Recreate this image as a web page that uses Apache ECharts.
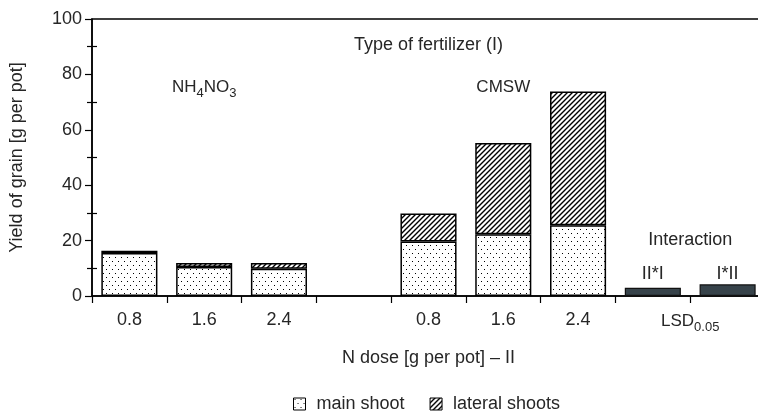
<!DOCTYPE html>
<html><head><meta charset="utf-8">
<script src="https://cdn.jsdelivr.net/npm/echarts@6/dist/echarts.min.js"></script>
<style>html,body{margin:0;padding:0;background:#fff}#c{width:758px;height:412px}</style>
</head><body><div id="c"></div>
<script>
// ---- data ----
const categories = ['0.8', '1.6', '2.4', '', '0.8', '1.6', '2.4', 'II*I', 'I*II'];
const mainShoot = [15.5, 10.5, 9.8, '-', 19.7, 22.3, 25.5, '-', '-'];
const lateralShoots = [0.8, 1.4, 2.1, '-', 10.1, 32.9, 48.3, '-', '-'];
const lsdValues = ['-', '-', '-', '-', '-', '-', '-', 3.0, 4.2];
const seriesNames = ['main shoot', 'lateral shoots'];
const yMin = 0, yMax = 100, yStep = 20;

const FONT = "'Liberation Sans', Arial, sans-serif";
const TXT = '#262626';
const FS = 18;

function dotPattern() {
  const c = document.createElement('canvas');
  c.width = 6; c.height = 8;
  const g = c.getContext('2d');
  g.fillStyle = '#fff'; g.fillRect(0, 0, 6, 8);
  g.fillStyle = '#000';
  g.fillRect(1, 1, 1, 1);
  g.fillRect(4, 5, 1, 1);
  return { image: c, repeat: 'repeat' };
}
function hatchPattern() {
  const s = 5;
  const c = document.createElement('canvas');
  c.width = s; c.height = s;
  const g = c.getContext('2d');
  g.fillStyle = '#fff'; g.fillRect(0, 0, s, s);
  g.strokeStyle = '#000'; g.lineWidth = 1.4;
  g.beginPath();
  g.moveTo(-1, s + 1); g.lineTo(s + 1, -1);
  g.moveTo(-1, 1); g.lineTo(1, -1);
  g.moveTo(s - 1, s + 1); g.lineTo(s + 1, s - 1);
  g.stroke();
  return { image: c, repeat: 'repeat' };
}

const chart = echarts.init(document.getElementById('c'), null, { renderer: 'canvas' });

const option = {
  animation: false,
  textStyle: { fontFamily: FONT },
  grid: { left: 92, top: 19, width: 673, height: 277, show: true, borderColor: '#000', borderWidth: 1.5,
    backgroundColor: 'transparent', containLabel: false, outerBoundsMode: 'none' },
  legend: {
    data: seriesNames, left: 288, top: 390, itemWidth: 12, itemHeight: 12, itemGap: 25,
    icon: 'rect',
    itemStyle: { borderColor: '#000', borderWidth: 1 },
    textStyle: { fontSize: FS, color: TXT, fontFamily: FONT, padding: [0, 0, 0, 6] }
  },
  xAxis: {
    type: 'category', data: categories,
    name: 'N dose [g per pot] \u2013 II', nameLocation: 'middle', nameGap: 53,
    nameTextStyle: { fontSize: FS, color: TXT, fontFamily: FONT },
    axisLine: { lineStyle: { color: '#000', width: 1.5 } },
    axisTick: { show: true, length: 7, alignWithLabel: false, interval: 0, lineStyle: { color: '#000', width: 1.2 } },
    axisLabel: { fontSize: FS, color: TXT, margin: 15, interval: 0, fontFamily: FONT,
      formatter: (v, i) => (i >= 7 ? '' : v) },
    splitLine: { show: false }
  },
  yAxis: [{
    type: 'value', min: yMin, max: yMax, interval: yStep,
    name: 'Yield of grain [g per pot]', nameLocation: 'middle', nameGap: 66,
    nameTextStyle: { fontSize: FS, color: TXT, fontFamily: FONT },
    axisLine: { show: true, lineStyle: { color: '#000', width: 1.5 } },
    axisTick: { show: true, length: 7, lineStyle: { color: '#000', width: 1.2 } },
    minorTick: { show: true, splitNumber: 2, length: 5, lineStyle: { color: '#000', width: 1.2 } },
    axisLabel: { fontSize: FS, color: TXT, margin: 10, fontFamily: FONT },
    splitLine: { show: false }
  }, {
    type: 'value', min: yMin, max: yMax, interval: yStep, position: 'left',
    axisLine: { show: false }, axisLabel: { show: false },
    axisTick: { show: false, inside: true },
    minorTick: { show: true, splitNumber: 2, length: 5, lineStyle: { color: '#000', width: 1.2 } },
    splitLine: { show: false }
  }],
  series: [{
    name: seriesNames[0], type: 'bar', stack: 'a', barWidth: '75%', data: mainShoot,
    itemStyle: { color: dotPattern(), borderColor: '#000', borderWidth: 1.5 }
  }, {
    name: seriesNames[1], type: 'bar', stack: 'a', barWidth: '75%', data: lateralShoots,
    itemStyle: { color: hatchPattern(), borderColor: '#000', borderWidth: 1.5 }
  }, {
    name: 'LSD', type: 'bar', stack: 'a', barWidth: '75%', data: lsdValues,
    itemStyle: { color: '#37434a', borderColor: '#111', borderWidth: 1.2 }
  }]
};
chart.setOption(option);

// annotations placed via the axis scales
function px(idx, val) { return chart.convertToPixel({ gridIndex: 0 }, [idx, val]); }
function mid(a, b, val) { const p = px(a, val), q = px(b, val); return [(p[0] + q[0]) / 2, p[1]]; }
function txt(pos, text, size) {
  return {
    type: 'text', x: pos[0], y: pos[1], silent: true,
    style: { text: text, font: size + 'px ' + FONT, fill: TXT, align: 'center', verticalAlign: 'middle', textAlign: 'center', textVerticalAlign: 'middle' }
  };
}
const richSub = {
  n: { fontSize: 17, fontFamily: FONT, color: TXT, verticalAlign: 'bottom', padding: [0, 0, 4, 0] },
  s: { fontSize: 13, fontFamily: FONT, color: TXT, verticalAlign: 'bottom' }
};
function richTxt(pos, text) {
  return {
    type: 'text', x: pos[0], y: pos[1], silent: true,
    style: { text: text, rich: richSub, fill: TXT, align: 'center', verticalAlign: 'middle', textAlign: 'center', textVerticalAlign: 'middle' }
  };
}
const lsdBoundary = mid(7, 8, 0);
chart.setOption({
  graphic: [
    txt(px(4, 90.6), 'Type of fertilizer (I)', FS),
    richTxt(px(1, 74.5), '{n|NH}{s|4}{n|NO}{s|3}'),
    richTxt(px(5, 74.5), '{n|CMSW}'),
    txt(mid(7, 8, 20.2), 'Interaction', FS),
    txt(px(7, 8.0), 'II*I', FS),
    txt(px(8, 8.0), 'I*II', FS),
    richTxt([lsdBoundary[0], lsdBoundary[1] + 27], '{n|LSD}{s|0.05}')
  ]
});
</script></body></html>
